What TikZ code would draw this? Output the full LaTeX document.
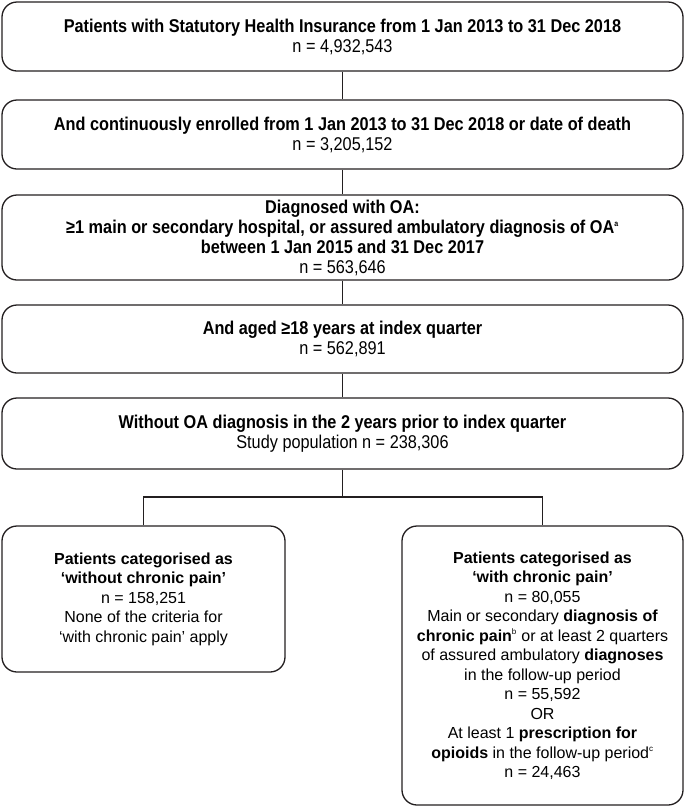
\documentclass[tikz,border=0pt]{standalone}
\usepackage{fontspec}
\setmainfont{Liberation Sans}
\newfontfamily\narrowsans[FakeStretch=0.88]{Liberation Sans}
\usepackage{tikz}
\usetikzlibrary{positioning, calc}
\definecolor{boxline}{RGB}{35, 31, 32}

\begin{document}
\begin{tikzpicture}[
  x=1pt, y=-1pt,
  tbox/.style={draw=boxline, line width=1.3pt, rounded corners=15pt, minimum width=681pt, align=center, inner sep=3pt, font=\narrowsans\fontsize{18.5}{20}\selectfont},
  pbox/.style={draw=boxline, line width=1.3pt, rounded corners=15pt, align=center, inner sep=4pt, font=\fontsize{16}{19.5}\selectfont},
  link/.style={draw=boxline, line width=1.3pt}
]
  \useasboundingbox (0,0) rectangle (685,807);
  \node[tbox, minimum height=69pt] (insured) at (342.5, 36.5) {\textbf{Patients with Statutory Health Insurance from 1 Jan 2013 to 31 Dec 2018}\\n = 4,932,543};
  \node[tbox, minimum height=69pt] (enrolled) at (342.5, 134.5) {\textbf{And continuously enrolled from 1 Jan 2013 to 31 Dec 2018 or date of death}\\n = 3,205,152};
  \node[tbox, minimum height=85pt] (oadiag) at (342.5, 237.5) {\textbf{Diagnosed with OA:}\\\textbf{≥1 main or secondary hospital, or assured ambulatory diagnosis of OA\textsuperscript{\footnotesize a}}\\\textbf{between 1 Jan 2015 and 31 Dec 2017}\\n = 563,646};
  \node[tbox, minimum height=68pt] (adult) at (342.5, 339) {\textbf{And aged ≥18 years at index quarter}\\n = 562,891};
  \node[tbox, minimum height=71pt] (studypop) at (342.5, 433.5) {\textbf{Without OA diagnosis in the 2 years prior to index quarter}\\Study population n = 238,306};
  \node[pbox, minimum width=283pt, minimum height=146pt] (nopain) at (143.5, 599) {\textbf{Patients categorised as}\\\textbf{‘without chronic pain’}\\n = 158,251\\None of the criteria for\\‘with chronic pain’ apply};
  \node[pbox, minimum width=281pt, minimum height=279pt] (pain) at (542.5, 665.5) {\textbf{Patients categorised as}\\\textbf{‘with chronic pain’}\\n = 80,055\\Main or secondary \textbf{diagnosis of}\\\textbf{chronic pain}\textsuperscript{\footnotesize b} or at least 2 quarters\\of assured ambulatory \textbf{diagnoses}\\in the follow-up period\\n = 55,592\\OR\\At least 1 \textbf{prescription for}\\\textbf{opioids} in the follow-up period\textsuperscript{\footnotesize c}\\n = 24,463};
  \coordinate (split) at (342.5, 497);
  % vertical chain
  \draw[link] (insured) -- (enrolled);
  \draw[link] (enrolled) -- (oadiag);
  \draw[link] (oadiag) -- (adult);
  \draw[link] (adult) -- (studypop);
  % branch into the two groups
  \draw[link] (studypop) -- (split);
  \draw[link] (nopain) |- (split) -| (pain);
\end{tikzpicture}
\end{document}
